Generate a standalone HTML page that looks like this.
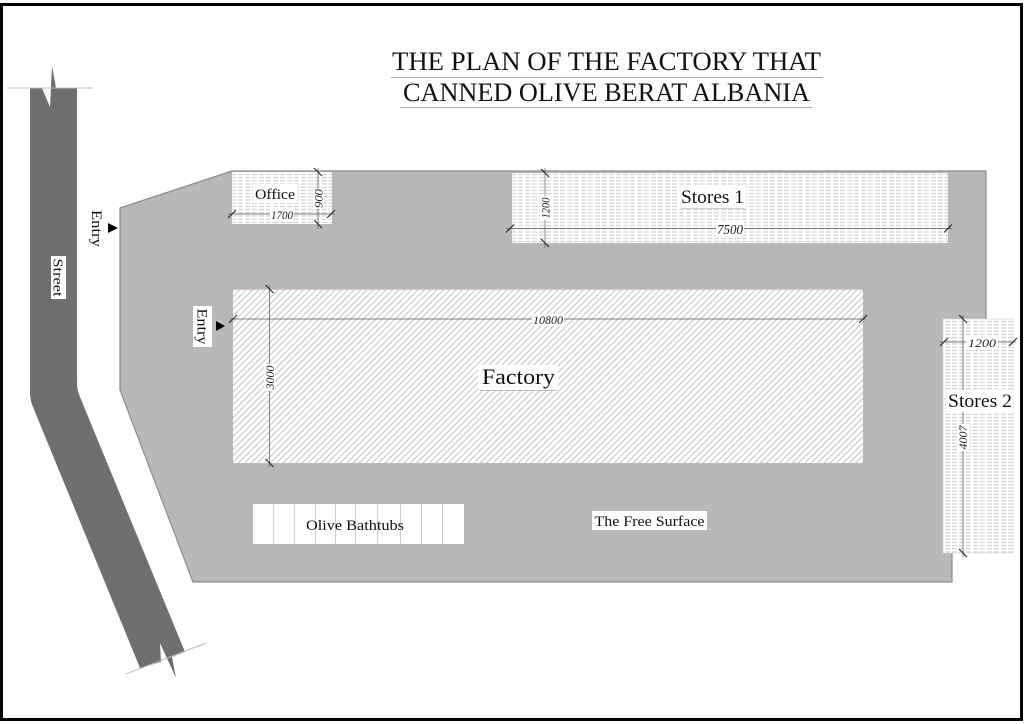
<!DOCTYPE html>
<html><head><meta charset="utf-8"><style>
html,body{margin:0;padding:0;background:#fff;}
svg{display:block;}
text{font-family:"Liberation Serif",serif;fill:#111;}
.dim{font-style:italic;fill:#222;}
</style></head><body>
<svg width="1024" height="724" viewBox="0 0 1024 724" xmlns="http://www.w3.org/2000/svg">
<defs>
<pattern id="hz" patternUnits="userSpaceOnUse" width="7" height="3.2">
<rect width="7" height="3.2" fill="#fff"/>
<line x1="0" y1="1.6" x2="7" y2="1.6" stroke="#bdbdbd" stroke-width="0.8" stroke-dasharray="5 2"/>
</pattern>
<pattern id="dg" patternUnits="userSpaceOnUse" width="4.5" height="10" patternTransform="rotate(45)">
<rect width="4.5" height="10" fill="#fff"/>
<line x1="1" y1="0" x2="1" y2="10" stroke="#bcbcbc" stroke-width="0.9"/>
</pattern>
</defs>

<rect x="0" y="0" width="1024" height="724" fill="#fff"/>
<rect x="1.5" y="4.5" width="1020" height="715" fill="none" stroke="#000" stroke-width="3"/>

<!-- Title -->
<text x="392" y="70" font-size="26" textLength="429" lengthAdjust="spacingAndGlyphs">THE PLAN OF THE FACTORY THAT</text>
<line x1="391" y1="77.5" x2="823" y2="77.5" stroke="#aaa" stroke-width="1"/>
<text x="403" y="101" font-size="26" textLength="407" lengthAdjust="spacingAndGlyphs">CANNED OLIVE BERAT ALBANIA</text>
<line x1="400" y1="107.5" x2="812" y2="107.5" stroke="#aaa" stroke-width="1"/>

<!-- Street -->
<path d="M30,88 L42,88 L50,107 L52,66 L56,88 L77,88 L77,383 Q77,390 80,397 L185,652 L172,657 L176,678 L160,643 L161,662 L140,668 L33,407 Q30,400 30,392 Z" fill="#6f6f6f"/>
<line x1="7" y1="88" x2="93" y2="88" stroke="#bbb" stroke-width="1"/>
<line x1="126" y1="674" x2="206" y2="643" stroke="#bbb" stroke-width="1"/>
<rect x="51" y="256" width="15" height="43" fill="#fff"/>
<text transform="translate(58.5,277.5) rotate(90)" text-anchor="middle" dy="0.35em" font-size="14" textLength="38" lengthAdjust="spacingAndGlyphs">Street</text>

<!-- Entry top -->
<text transform="translate(97,228.5) rotate(90)" text-anchor="middle" dy="0.35em" font-size="15" textLength="37" lengthAdjust="spacingAndGlyphs">Entry</text>
<polygon points="108,223 118,228 108,233" fill="#000"/>

<!-- Site -->
<polygon points="120,208 232,171 986,171 986,330 952,330 952,582 193,582 120,390" fill="#b8b8b8" stroke="#8c8c8c" stroke-width="1.2"/>

<!-- Office -->
<rect x="232" y="172" width="100" height="52" fill="url(#hz)"/>
<!-- Stores 1 -->
<rect x="512" y="173" width="436" height="70" fill="url(#hz)"/>
<!-- Factory -->
<rect x="233" y="289" width="630" height="174" fill="url(#dg)"/>
<line x1="233" y1="289.5" x2="863" y2="289.5" stroke="#d8c4c4" stroke-width="1"/>
<!-- Stores 2 -->
<rect x="943" y="319" width="70" height="234" fill="url(#hz)" stroke="#d0d0d0" stroke-width="0.6"/>

<!-- Bathtubs -->
<rect x="253" y="504" width="211" height="40" fill="#fff"/>
<g stroke="#cfcfcf" stroke-width="1">
<line x1="273.5" y1="504" x2="273.5" y2="544"/>
<line x1="294.5" y1="504" x2="294.5" y2="544"/>
<line x1="315.5" y1="504" x2="315.5" y2="544"/>
<line x1="335.5" y1="504" x2="335.5" y2="544"/>
<line x1="355.5" y1="504" x2="355.5" y2="544"/>
<line x1="377.5" y1="504" x2="377.5" y2="544"/>
<line x1="400.5" y1="504" x2="400.5" y2="544"/>
<line x1="421.5" y1="504" x2="421.5" y2="544"/>
<line x1="442.5" y1="504" x2="442.5" y2="544"/>
</g>
<text x="355" y="530" text-anchor="middle" font-size="15" textLength="98" lengthAdjust="spacingAndGlyphs">Olive Bathtubs</text>

<!-- Entry 2 -->
<rect x="193" y="306" width="19" height="41" fill="#fff"/>
<text transform="translate(202.5,326.5) rotate(90)" text-anchor="middle" dy="0.35em" font-size="15" textLength="36" lengthAdjust="spacingAndGlyphs">Entry</text>
<polygon points="216,321 225,326 216,331" fill="#000"/>

<!-- Dimension lines -->
<g stroke="#555" stroke-width="0.7">
<line x1="228" y1="214" x2="335" y2="214"/>
<line x1="318" y1="168" x2="318" y2="229"/>
<line x1="506" y1="228.5" x2="952" y2="228.5"/>
<line x1="545" y1="168" x2="545" y2="248"/>
<line x1="230" y1="319" x2="866" y2="319"/>
<line x1="269.5" y1="285" x2="269.5" y2="467"/>
<line x1="940" y1="342" x2="1016" y2="342"/>
<line x1="963" y1="315" x2="963" y2="557"/>
</g>
<g stroke="#222" stroke-width="1.1">
<!-- horizontal ticks "/" -->
<line x1="228" y1="218" x2="236" y2="210"/>
<line x1="327" y1="218" x2="335" y2="210"/>
<line x1="506" y1="232.5" x2="514" y2="224.5"/>
<line x1="944" y1="232.5" x2="952" y2="224.5"/>
<line x1="229" y1="323" x2="237" y2="315"/>
<line x1="859" y1="323" x2="867" y2="315"/>
<line x1="940" y1="346" x2="948" y2="338"/>
<line x1="1009" y1="346" x2="1017" y2="338"/>
<!-- vertical ticks "\" -->
<line x1="314" y1="168" x2="322" y2="176"/>
<line x1="314" y1="220" x2="322" y2="228"/>
<line x1="541" y1="169" x2="549" y2="177"/>
<line x1="541" y1="239" x2="549" y2="247"/>
<line x1="265.5" y1="285" x2="273.5" y2="293"/>
<line x1="265.5" y1="459" x2="273.5" y2="467"/>
<line x1="959" y1="315" x2="967" y2="323"/>
<line x1="959" y1="549" x2="967" y2="557"/>
</g>

<!-- Dimension labels -->
<rect x="270" y="209" width="24" height="12" fill="#fff"/>
<text class="dim" x="282" y="219" text-anchor="middle" font-size="12" textLength="22" lengthAdjust="spacingAndGlyphs">1700</text>
<rect x="313" y="188" width="11" height="21" fill="#fff"/>
<text class="dim" transform="translate(318.5,198.5) rotate(-90)" text-anchor="middle" dy="0.35em" font-size="12" textLength="19" lengthAdjust="spacingAndGlyphs">900</text>

<rect x="716" y="222" width="28" height="14" fill="#fff"/>
<text class="dim" x="730" y="234" text-anchor="middle" font-size="14" textLength="26" lengthAdjust="spacingAndGlyphs">7500</text>
<rect x="540" y="196" width="11" height="24" fill="#fff"/>
<text class="dim" transform="translate(545.5,208) rotate(-90)" text-anchor="middle" dy="0.35em" font-size="12" textLength="21" lengthAdjust="spacingAndGlyphs">1200</text>

<rect x="532" y="314" width="32" height="12" fill="#fff"/>
<text class="dim" x="548" y="324" text-anchor="middle" font-size="12" textLength="30" lengthAdjust="spacingAndGlyphs">10800</text>
<rect x="264" y="364" width="11" height="27" fill="#fff"/>
<text class="dim" transform="translate(270,377.5) rotate(-90)" text-anchor="middle" dy="0.35em" font-size="12" textLength="24" lengthAdjust="spacingAndGlyphs">3000</text>

<rect x="966" y="336" width="32" height="13" fill="#fff"/>
<text class="dim" x="982" y="347" text-anchor="middle" font-size="12" textLength="28" lengthAdjust="spacingAndGlyphs">1200</text>
<rect x="957" y="424" width="12" height="27" fill="#fff"/>
<text class="dim" transform="translate(963,437.5) rotate(-90)" text-anchor="middle" dy="0.35em" font-size="12" textLength="24" lengthAdjust="spacingAndGlyphs">4007</text>

<!-- Labels -->
<rect x="253" y="184" width="44" height="19" fill="#fff"/>
<text x="275" y="199" text-anchor="middle" font-size="15" textLength="40" lengthAdjust="spacingAndGlyphs">Office</text>

<rect x="679" y="186" width="67" height="21" fill="#fff"/>
<text x="712.5" y="203" text-anchor="middle" font-size="19" textLength="63" lengthAdjust="spacingAndGlyphs">Stores 1</text>
<line x1="681" y1="208.5" x2="745" y2="208.5" stroke="#ccc" stroke-width="1"/>

<rect x="478" y="365" width="80" height="26" fill="#fff"/>
<text x="518.5" y="384" text-anchor="middle" font-size="22" textLength="73" lengthAdjust="spacingAndGlyphs">Factory</text>
<line x1="480" y1="390.5" x2="557" y2="390.5" stroke="#bbb" stroke-width="1"/>

<rect x="946" y="390" width="67" height="22" fill="#fff"/>
<text x="980" y="407" text-anchor="middle" font-size="19" textLength="64" lengthAdjust="spacingAndGlyphs">Stores 2</text>

<rect x="592" y="511" width="115" height="19" fill="#fff"/>
<text x="649.5" y="526" text-anchor="middle" font-size="15" textLength="110" lengthAdjust="spacingAndGlyphs">The Free Surface</text>
</svg>
</body></html>
